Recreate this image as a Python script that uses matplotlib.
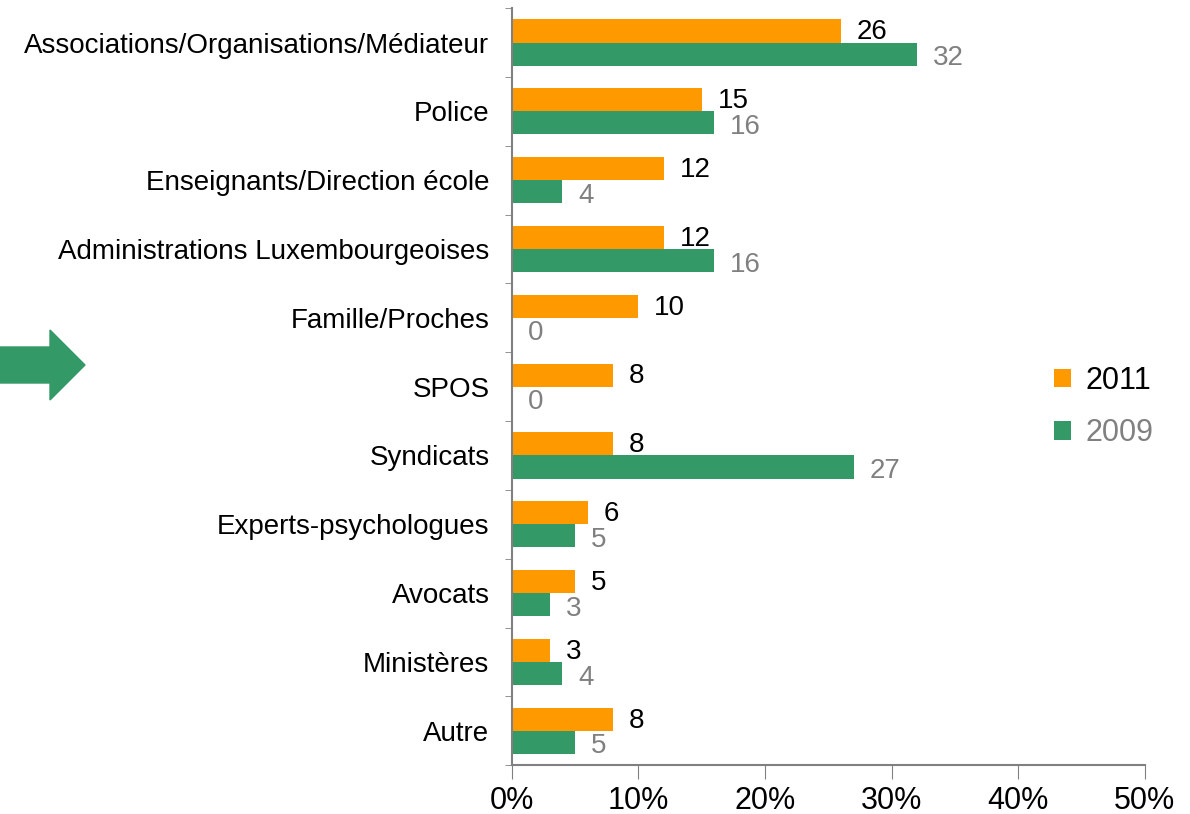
import matplotlib.pyplot as plt
from matplotlib.patches import Polygon
import numpy as np

categories = ['Associations/Organisations/Médiateur', 'Police', 'Enseignants/Direction école',
              'Administrations Luxembourgeoises', 'Famille/Proches', 'SPOS', 'Syndicats',
              'Experts-psychologues', 'Avocats', 'Ministères', 'Autre']
vals_2011 = [26, 15, 12, 12, 10, 8, 8, 6, 5, 3, 8]
vals_2009 = [32, 16, 4, 16, 0, 0, 27, 5, 3, 4, 5]
xticks = [0, 10, 20, 30, 40, 50]

orange = '#FF9900'
green = '#339966'
grey = '#808080'

plt.rcParams['font.family'] = ['Liberation Sans', 'DejaVu Sans']

fig = plt.figure(figsize=(11.9, 8.14), dpi=100)
ax = fig.add_axes([0.430, 0.060, 0.532, 0.930])

y = np.arange(len(categories))
h = 0.335
ax.barh(y - h / 2, vals_2011, height=h, color=orange, label='2011')
ax.barh(y + h / 2, vals_2009, height=h, color=green, label='2009')

# value labels next to each bar
for i, (a, b) in enumerate(zip(vals_2011, vals_2009)):
    ax.text(a + 1.25, i - h / 2 + 0.02, str(a), va='center', ha='left', fontsize=20, color='black')
    ax.text(b + 1.25, i + h / 2 + 0.06, str(b), va='center', ha='left', fontsize=20, color=grey)

ax.set_ylim(len(categories) - 0.5, -0.5)
ax.set_xlim(0, 50)
ax.set_yticks(y)
ax.set_yticklabels(categories, fontsize=20)
ax.tick_params(axis='y', length=0, pad=16)
ax.set_yticks(np.arange(-0.5, len(categories)), minor=True)
ax.tick_params(axis='y', which='minor', length=5, color=grey, direction='out')

ax.set_xticks(xticks)
ax.set_xticklabels([f'{t}%' for t in xticks], fontsize=22)
ax.tick_params(axis='x', length=10, color=grey, pad=5)

for s in ['top', 'right']:
    ax.spines[s].set_visible(False)
for s in ['left', 'bottom']:
    ax.spines[s].set_color(grey)
    ax.spines[s].set_linewidth(1.5)

leg = fig.legend(loc='center left', bbox_to_anchor=(0.863, 0.500), frameon=False,
                 fontsize=22, handlelength=0.55, handleheight=0.55, handletextpad=0.45,
                 labelspacing=0.75)
leg.get_texts()[1].set_color(grey)

# green arrow on the left
W, H = 1190, 814
pts = [(0, 347), (50, 347), (50, 330), (85, 365), (50, 400), (50, 383), (0, 383)]
arrow = Polygon([(px / W, 1 - py / H) for px, py in pts], closed=True,
                transform=fig.transFigure, color=green)
fig.patches.append(arrow)

fig.savefig('out.png', dpi=100)
